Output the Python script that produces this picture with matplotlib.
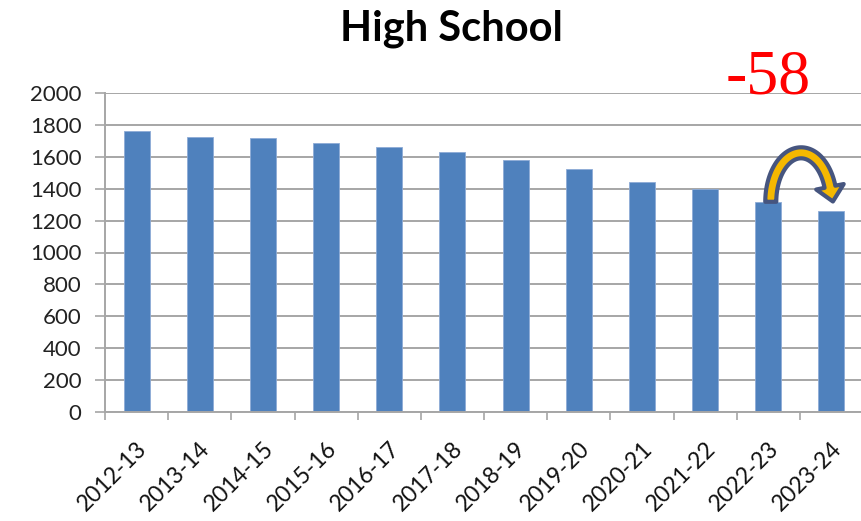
import numpy as np
import matplotlib
matplotlib.use("Agg")
import matplotlib.pyplot as plt
from matplotlib.patches import Polygon
from matplotlib.transforms import ScaledTranslation, IdentityTransform

# school years and high school enrollment
years = ['2012-13', '2013-14', '2014-15', '2015-16', '2016-17', '2017-18',
         '2018-19', '2019-20', '2020-21', '2021-22', '2022-23', '2023-24']
enrollment = [1763, 1722, 1720, 1689, 1664, 1631, 1580, 1522, 1443, 1398, 1318, 1260]
y_ticks = [0, 200, 400, 600, 800, 1000, 1200, 1400, 1600, 1800, 2000]

BAR = '#4F81BD'
GRID = '#A6A6A6'

fig = plt.figure(figsize=(8.61, 5.21), dpi=100)
ax = fig.add_axes([105 / 861, 1 - 412 / 521, 758 / 861, 319 / 521])

x = np.arange(len(years))
ax.bar(x, enrollment, width=0.41, color=BAR, edgecolor='#8EABD6', linewidth=0.6, zorder=2)

ax.set_xlim(-0.5, len(years) - 0.5)
ax.set_ylim(0, 2000)
ax.set_yticks(y_ticks)
ax.set_yticklabels([str(v) for v in y_ticks], fontsize=16, family='Lato', color='#222222')
ax.yaxis.grid(True, color=GRID, linewidth=1.4)
ax.set_axisbelow(True)

# labels at the bar centres, tick marks at the category boundaries
ax.set_xticks(x)
ax.set_xticklabels(years, fontsize=16.5, family='Lato', color='#111111',
                   rotation=45, ha='right', va='center', rotation_mode='anchor')
ax.set_xticks(np.arange(-0.5, len(years), 1), minor=True)
ax.tick_params(axis='x', which='major', length=0, pad=24)
ax.tick_params(axis='x', which='minor', length=6, width=1.2, color=GRID)
ax.tick_params(axis='y', length=7, width=1.2, color=GRID, pad=10)
shift = ScaledTranslation(0.07, 0, fig.dpi_scale_trans)
for lbl in ax.get_xticklabels():
    lbl.set_transform(lbl.get_transform() + shift)

for s in ['top', 'right']:
    ax.spines[s].set_visible(False)
for s in ['left', 'bottom']:
    ax.spines[s].set_color(GRID)
    ax.spines[s].set_linewidth(1.4)

fig.text(451 / 861, 1 - 40 / 521, 'High School', ha='center', va='baseline',
         fontsize=30, fontweight='bold', family='Lato')

# change between the last two years
diff = enrollment[-1] - enrollment[-2]
ax.text(x[-2], 2000, f'{diff:d}', ha='center', va='baseline', color='#FF0000',
        fontsize=46, family='Liberation Serif', clip_on=False)

# curved arrow from the 2022-23 bar to the 2023-24 bar (built in pixels)
L = ax.transData.transform((x[-2] + 0.04, enrollment[-2]))
R = ax.transData.transform((x[-1] + 0.0, enrollment[-2]))
top = ax.transData.transform((x[-2], 1625))[1]
cx, cy = (L[0] + R[0]) / 2, L[1]
rx, ry = (R[0] - L[0]) / 2, top - L[1]
w, hw, hl = 5.5, 14, 15
th = np.arcsin(hl / ry)
t = np.linspace(np.pi, th, 80)
cen = np.column_stack([cx + rx * np.cos(t), cy + ry * np.sin(t)])
nrm = np.column_stack([ry * np.cos(t), rx * np.sin(t)])
nrm /= np.linalg.norm(nrm, axis=1)[:, None]
E, nE = cen[-1], nrm[-1]
d = np.array([rx * np.sin(th), -ry * np.cos(th)])
d /= np.linalg.norm(d)
tip = E + d * hl
pts = np.vstack([cen + w * nrm, [E + hw * nE], [tip], [E - hw * nE], (cen - w * nrm)[::-1]])
fig.add_artist(Polygon(pts, closed=True, transform=IdentityTransform(),
                       facecolor='#F5B800', edgecolor='#46557F', linewidth=3,
                       joinstyle='round', zorder=5))

fig.savefig('out.png', dpi=100)
